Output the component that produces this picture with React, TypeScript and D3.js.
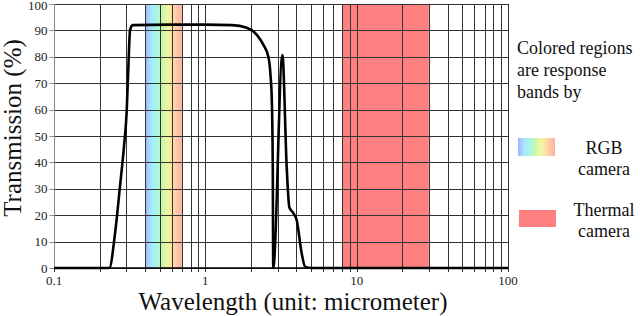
import * as d3 from "d3";

// transmission curve (wavelength in micrometers, transmission in %)
const WAVELENGTH = [
  0.1, 0.232, 0.253, 0.273, 0.29, 0.302, 0.31, 0.318, 0.331, 0.6, 1.0, 1.5,
  1.876, 2.19, 2.42, 2.61, 2.7, 2.75, 2.79, 2.81, 3.23, 3.45, 3.59, 3.81, 4.02,
  4.33, 4.56, 5, 100,
];
const TRANSMISSION = [
  0, 0, 13, 31, 46, 59, 76, 90, 92, 92.2, 92.2, 92, 91, 88.3, 84.5, 80, 72.5,
  63.6, 38, 0, 80.7, 38, 23, 20.8, 18, 5.6, 0.5, 0, 0,
];

const X_TICKS = [0.1, 1, 10, 100];
const X_TICK_LABELS = ["0.1", "1", "10", "100"];
const Y_TICKS = [0, 10, 20, 30, 40, 50, 60, 70, 80, 90, 100];

const RGB_BAND = [0.4, 0.7];
const THERMAL_BAND = [8, 30];
const RAINBOW = [
  { t: 0, c: "#9db2ff" },
  { t: 0.16, c: "#a8e6ff" },
  { t: 0.32, c: "#a8f6e6" },
  { t: 0.45, c: "#c4f6b0" },
  { t: 0.6, c: "#eef8a2" },
  { t: 0.75, c: "#ffe0a4" },
  { t: 0.87, c: "#ffc8a8" },
  { t: 1, c: "#ffb09e" },
];
const THERMAL_COLOR = "#ff8080";

const NOTE = ["Colored regions", "are response", "bands by"];

const FONT = "Times New Roman";

const x = d3.scaleLog().domain([0.1, 100]).range([54, 508]);
const y = d3.scaleLinear().domain([0, 100]).range([268, 4]);

const minor: number[] = [];
[0.1, 1, 10].forEach((d) => { for (let k = 1; k < 10; k++) minor.push(d * k); });
minor.push(100);

const snap = (v: number) => Math.round(v) + 0.5;

export default function App() {
  const pts = WAVELENGTH.map((w, i) => [w, TRANSMISSION[i]] as [number, number]);
  const line = d3.line<[number, number]>()
    .x((d) => x(d[0])).y((d) => y(d[1]))
    .curve(d3.curveMonotoneX);
  const x0 = snap(x(0.1));
  const top = y(100);
  const bottom = y(0);

  return (
    <svg width={640} height={316}
      style={{ position: "absolute", left: 0, top: 0 }}>
      <rect width={640} height={316} fill="#fff" />
      <defs>
        <linearGradient id="rainbow">
          {RAINBOW.map((s) => <stop key={s.t} offset={s.t} stopColor={s.c} />)}
        </linearGradient>
      </defs>

      {/* bands */}
      <rect x={x(RGB_BAND[0])} y={top} width={x(RGB_BAND[1]) - x(RGB_BAND[0])}
        height={bottom - top} fill="url(#rainbow)" />
      <rect x={x(THERMAL_BAND[0])} y={top} width={x(THERMAL_BAND[1]) - x(THERMAL_BAND[0])}
        height={bottom - top} fill={THERMAL_COLOR} />

      {/* grid */}
      <g stroke="#333" strokeWidth={1}>
        {minor.map((v) => (
          <line key={v} x1={snap(x(v))} x2={snap(x(v))} y1={top} y2={bottom + 4} />
        ))}
        {Y_TICKS.map((v) => (
          <line key={v} x1={x0} x2={x(100)} y1={snap(y(v))} y2={snap(y(v))} />
        ))}
      </g>

      {/* y axis */}
      <g stroke="#888">
        <line x1={x0} x2={x0} y1={top} y2={bottom} />
        {Y_TICKS.map((v) => <line key={v} x1={x0 - 5} x2={x0} y1={snap(y(v))} y2={snap(y(v))} />)}
      </g>
      {Y_TICKS.map((v) => (
        <text key={v} x={x0 - 7} y={Math.max(y(v) + 4.5, 10)} textAnchor="end"
          fontFamily={FONT} fontSize={13} fill="#222">{v}</text>
      ))}

      {/* x axis */}
      <line x1={x(0.1)} x2={x(100)} y1={bottom} y2={bottom} stroke="#000" strokeWidth={1.5} />
      {X_TICKS.map((v, i) => (
        <text key={v} x={x(v)} y={bottom + 17} textAnchor="middle"
          fontFamily={FONT} fontSize={13} fill="#222">{X_TICK_LABELS[i]}</text>
      ))}

      {/* curve */}
      <path d={line(pts) ?? ""} fill="none" stroke="#000" strokeWidth={2.6} strokeLinejoin="round" />

      {/* axis titles */}
      <text transform="translate(21,128) rotate(-90)" textAnchor="middle"
        fontFamily={FONT} fontSize={25} fill="#111">Transmission (%)</text>
      <text x={293} y={310} textAnchor="middle"
        fontFamily={FONT} fontSize={25} fill="#111">Wavelength (unit: micrometer)</text>

      {/* legend */}
      {NOTE.map((t, i) => (
        <text key={t} x={517} y={54 + i * 22} fontFamily={FONT} fontSize={18} fill="#111">{t}</text>
      ))}
      <rect x={518} y={138} width={37} height={18} fill="url(#rainbow)" />
      <rect x={519} y={210} width={37} height={17} fill={THERMAL_COLOR} />
      <text x={604} y={154} textAnchor="middle" fontFamily={FONT} fontSize={18} fill="#111">RGB</text>
      <text x={604} y={175} textAnchor="middle" fontFamily={FONT} fontSize={18} fill="#111">camera</text>
      <text x={604} y={216} textAnchor="middle" fontFamily={FONT} fontSize={18} fill="#111">Thermal</text>
      <text x={604} y={237} textAnchor="middle" fontFamily={FONT} fontSize={18} fill="#111">camera</text>
    </svg>
  );
}
